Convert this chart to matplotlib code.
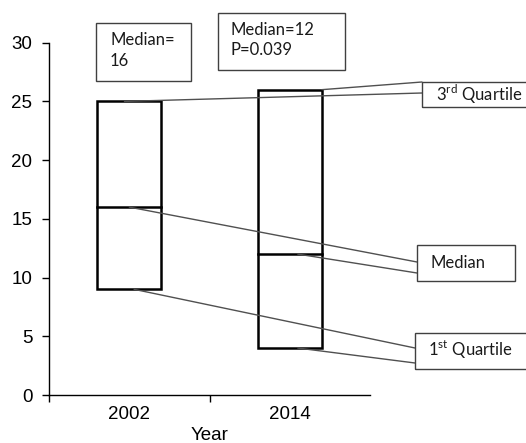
import matplotlib
matplotlib.use("Agg")
import matplotlib.pyplot as plt
from matplotlib.patches import Rectangle

# Data
years = ["2002", "2014"]
q1 = [9, 4]
median = [16, 12]
q3 = [25, 26]
y_ticks = [0, 5, 10, 15, 20, 25, 30]

W, H = 526, 443
fig = plt.figure(figsize=(W / 100, H / 100), dpi=100)
ax = fig.add_axes([49 / W, 1 - 395 / H, (370 - 49) / W, (395 - 42.7) / H])

plt.rcParams['mathtext.fontset'] = 'custom'
plt.rcParams['mathtext.rm'] = 'Lato'

centers = [0.5, 1.5]
bw = 0.4
for c, a, m, b in zip(centers, q1, median, q3):
    ax.add_patch(Rectangle((c - bw / 2, a), bw, b - a, fill=False, edgecolor="black", lw=1.8, zorder=3))
    ax.plot([c - bw / 2, c + bw / 2], [m, m], color="black", lw=1.8, zorder=3)

tick_font = dict(fontsize=13.5, family="Liberation Sans")
ax.set_xlim(0, 2)
ax.set_ylim(0, 30)
ax.set_yticks(y_ticks)
ax.set_yticklabels([str(v) for v in y_ticks], **tick_font)
ax.set_xticks([0, 1])
ax.set_xticklabels([])
ax.set_xticks(centers, minor=True)
ax.set_xticklabels(years, minor=True, **tick_font)
ax.tick_params(axis="x", which="minor", length=0, pad=8)
ax.tick_params(axis="x", which="major", length=5, width=1)
ax.tick_params(axis="y", length=5, width=1, pad=7)
for s in ["top", "right"]:
    ax.spines[s].set_visible(False)
ax.spines["left"].set_linewidth(1)
ax.spines["bottom"].set_linewidth(1)
fig.text(210 / W, 1 - 435 / H, "Year", ha="center", va="center", **tick_font)

def fx(px):
    return px / W

def fy(py):
    return 1 - py / H

def box(x0, y0, x1, y1):
    fig.patches.append(Rectangle((fx(x0), fy(y1)), fx(x1) - fx(x0), fy(y0) - fy(y1),
                                 transform=fig.transFigure, fill=False,
                                 edgecolor="#404040", lw=1, zorder=5))

lc = "#505050"
def connect(xd, yd, px, py):
    ax.annotate("", xy=(fx(px), fy(py)), xycoords="figure fraction",
                xytext=(xd, yd), textcoords="data",
                arrowprops=dict(arrowstyle="-", color=lc, lw=1, shrinkA=0, shrinkB=0),
                annotation_clip=False)

tf = dict(family="Lato", fontsize=12, color="#1a1a1a")

# Median boxes on top
box(96, 23, 191, 81)
fig.text(fx(110), fy(50.5), "Median=\n16", ha="left", va="center", linespacing=1.35, **tf)
box(218, 13, 345, 70)
fig.text(fx(230), fy(40), "Median=12\nP=0.039", ha="left", va="center", linespacing=1.25, **tf)

# Label boxes
box(422, 82, 530, 107)
fig.text(fx(436), fy(94), r"3$^{\mathrm{rd}}$ Quartile", ha="left", va="center", **tf)
box(417, 245, 515, 281)
fig.text(fx(430), fy(263), "Median", ha="left", va="center", **tf)
box(415, 333, 530, 369)
fig.text(fx(428), fy(350), r"1$^{\mathrm{st}}$ Quartile", ha="left", va="center", **tf)

# Connector lines
connect(centers[0] - 0.03, q3[0], 422, 93)
connect(centers[1] + 0.2, q3[1], 422, 82)
connect(centers[0], median[0], 417, 262)
connect(centers[1] + 0.05, median[1], 417, 273)
connect(centers[0] + 0.03, q1[0], 415, 348)
connect(centers[1] + 0.05, q1[1], 415, 363)

fig.savefig("out.png", dpi=100)
